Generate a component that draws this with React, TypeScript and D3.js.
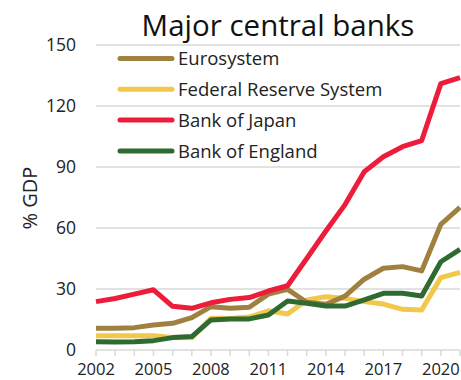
import React from "react";
import * as d3 from "d3";

const years = d3.range(2002, 2022);
const eurosystem = [10.7, 10.7, 11, 12.3, 13.1, 15.9, 21.3, 20.5, 21, 27.5, 29.8, 23.5, 22.5, 26.5, 34.8, 40.2, 41, 38.9, 61.8, 70.2];
const fed = [7, 7, 7, 7, 6.2, 6, 15.6, 15.5, 16.2, 19.3, 17.7, 24.6, 26.2, 25.4, 23.8, 22.6, 20, 19.7, 35.6, 38.2];
const boj = [23.8, 25.3, 27.5, 29.6, 21.5, 20.5, 23.2, 24.9, 25.8, 29, 31.6, 45, 58.5, 71.5, 87.7, 95, 100, 103, 131, 134];
const boe = [4.1, 3.9, 4.1, 4.6, 6.1, 6.6, 14.8, 15.3, 15.3, 17.2, 24.1, 23, 21.6, 21.6, 24.6, 27.9, 27.9, 26.6, 43.4, 49.5];
const yTicks = [0, 30, 60, 90, 120, 150];
const xTickLabels = [2002, 2005, 2008, 2011, 2014, 2017, 2020];

const series = [
  { name: "Eurosystem", values: eurosystem, color: "#A0803F" },
  { name: "Federal Reserve System", values: fed, color: "#F2C84B" },
  { name: "Bank of Japan", values: boj, color: "#EC1C3A" },
  { name: "Bank of England", values: boe, color: "#2F6A31" },
];
const drawOrder = [1, 0, 3, 2];

export default function App() {
  const W = 461, H = 380;
  const x = d3.scaleLinear().domain([2002, 2021]).range([96, 460]);
  const y = d3.scaleLinear().domain([0, 150]).range([350, 45]);
  const line = d3.line<number>().x((_, i) => x(years[i])).y((d) => y(d));
  const font = "'Open Sans', sans-serif";
  return (
    <svg width={W} height={H} style={{ position: "absolute", left: 0, top: 0 }} fontFamily={font}>
      <rect width={W} height={H} fill="#fff" />
      {yTicks.map((t) => (
        <g key={t}>
          {t > 0 && <line x1={96} x2={460} y1={y(t)} y2={y(t)} stroke="#d9d9d9" strokeWidth={1.5} />}
          <text x={76} y={y(t)} dy="0.36em" textAnchor="end" fontSize={17.5} fill="#222">{t}</text>
        </g>
      ))}
      <line x1={96} x2={460} y1={y(0)} y2={y(0)} stroke="#d9d9d9" strokeWidth={1.5} />
      {years.map((yr) => (
        <line key={yr} x1={x(yr)} x2={x(yr)} y1={y(0)} y2={y(0) + 6} stroke="#d9d9d9" strokeWidth={1.5} />
      ))}
      {xTickLabels.map((yr) => (
        <text key={yr} x={x(yr)} y={375} textAnchor="middle" fontSize={16.5} fill="#222">{yr}</text>
      ))}
      <text transform={`translate(37,198) rotate(-90)`} textAnchor="middle" fontSize={20} fill="#222">% GDP</text>
      <text x={278} y={36} textAnchor="middle" fontSize={29.5} fill="#111">Major central banks</text>
      {drawOrder.map((i) => (
        <path key={series[i].name} d={line(series[i].values) || ""} fill="none" stroke={series[i].color} strokeWidth={5} strokeLinejoin="round" />
      ))}
      {series.map((s, i) => {
        const ly = 58.5 + i * 30.8;
        return (
          <g key={s.name}>
            <line x1={120} x2={172} y1={ly} y2={ly} stroke={s.color} strokeWidth={5} strokeLinecap="round" />
            <text x={178} y={ly} dy="0.36em" fontSize={18.5} fill="#222">{s.name}</text>
          </g>
        );
      })}
    </svg>
  );
}
